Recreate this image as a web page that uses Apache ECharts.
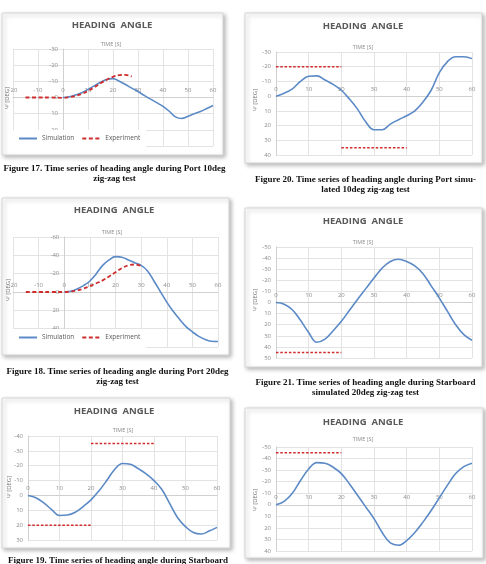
<!DOCTYPE html>
<html>
<head>
<meta charset="utf-8">
<script src="https://cdn.jsdelivr.net/npm/echarts@6/dist/echarts.min.js"></script>
<style>
  html, body { margin: 0; background: #fff; }
  #chart { width: 486px; height: 564px; }
</style>
</head>
<body>
<div id="chart"></div>
<script>
// Fig 17 - port 10deg zig-zag
const sim17T = [0, 2.5, 5, 7.5, 10, 12.5, 15, 17.5, 20, 22.5, 25, 27.5, 30, 32.5, 35, 37.5, 40, 42.5, 45, 47.5, 50, 52.5, 55, 57.5, 60];
const sim17Psi = [0, -0.5, -1.5, -3, -5, -7.2, -9.4, -11.2, -11.7, -10.1, -8, -5.8, -3.7, -1.3, 1, 3.2, 5.5, 8.5, 12, 13, 11.6, 10, 8.6, 6.8, 4.9];
const exp17T = [-15, -10, -5, 0, 2.5, 5, 7.5, 10, 12.5, 15, 17.5, 20, 22.5, 25, 27.5];
const exp17Psi = [0, 0, 0, 0.2, -0.2, -1, -2.3, -4, -6.3, -8.8, -11, -12.8, -13.8, -14, -13];

// Fig 18 - port 20deg zig-zag
const sim18T = [0, 2.5, 5, 7.5, 10, 12.5, 15, 17.5, 20, 22.5, 25, 27.5, 30, 32.5, 35, 37.5, 40, 42.5, 45, 47.5, 50, 52.5, 55, 57.5, 60];
const sim18Psi = [0, -0.8, -3.3, -7, -12, -20, -29, -35, -38.6, -38, -35, -32, -29, -23, -12, -0.5, 11, 21, 29.7, 37.7, 43.5, 48.4, 51.7, 53.8, 54];
const exp18T = [-15, -10, -5, 0, 2.5, 5, 7.5, 10, 12.5, 15, 17.5, 20, 22.5, 25, 27.5, 30.5];
const exp18Psi = [0, 0, 0, 0, -0.5, -1.6, -3.7, -6.3, -9.5, -12.7, -17, -21.5, -26, -29, -30, -27.8];

// Fig 19 - starboard simulated 10deg
const sim19T = [0, 2.5, 5, 7.5, 10, 12.5, 15, 17.5, 20, 22.5, 25, 27.5, 30, 32.5, 35, 37.5, 40, 42.5, 45, 47.5, 50, 52.5, 55, 57.5, 60];
const sim19Psi = [0, 1.5, 5, 9.5, 13.5, 13.2, 11.3, 7.5, 3, -3, -10, -17.5, -21.5, -21, -18, -14.5, -10, -4, 5.5, 15, 21, 25, 26, 24, 21.5];
const rud19T = [0, 20, 20, 40];
const rud19Psi = [20, 20, -35, -35];

// Fig 20 - port simulated 10deg
const sim20T = [0, 2.5, 5, 7.5, 10, 12.5, 15, 17.5, 20, 22.5, 25, 27.5, 30, 32.5, 35, 37.5, 40, 42.5, 45, 47.5, 50, 52.5, 55, 57.5, 60];
const sim20Psi = [0, -2, -5, -10, -13.5, -13.8, -11, -8, -4, 2, 9, 17.5, 22.8, 22.8, 19, 16, 13.3, 10, 4, -4, -16, -23.5, -26.8, -26.8, -25.5];
const rud20T = [0, 20, 20, 40];
const rud20Psi = [-20, -20, 35, 35];

// Fig 21 - starboard simulated 20deg
const sim21T = [0, 2.5, 5, 7.5, 10, 12.5, 15, 17.5, 20, 22.5, 25, 27.5, 30, 32.5, 35, 37.5, 40, 42.5, 45, 47.5, 50, 52.5, 55, 57.5, 60];
const sim21Psi = [0, 1.5, 6.5, 16, 27, 35.8, 33, 25.5, 17, 7, -3, -12.5, -22, -31, -37, -39, -37, -33, -26, -15, -4, 8, 20, 29, 34];
const rud21T = [0, 20];
const rud21Psi = [45, 45];

// Fig 22 - port simulated 20deg
const sim22T = [0, 2.5, 5, 7.5, 10, 12.5, 15, 17.5, 20, 22.5, 25, 27.5, 30, 32.5, 35, 37.5, 40, 42.5, 45, 47.5, 50, 52.5, 55, 57.5, 60];
const sim22Psi = [0, -3, -10, -21, -31, -36.5, -36, -32.5, -27, -18, -8, 2, 12, 24, 33, 35, 31, 24, 15, 5, -6, -17, -27, -33, -36];
const rud22T = [0, 20];
const rud22Psi = [-45, -45];

const zip = (t, v) => t.map((x, i) => [x, v[i]]);
// rudder data comes in pairs of points, split them into segments
const segs = (t, v) => {
  const out = [];
  for (let i = 0; i < t.length; i += 2) {
    out.push([t[i], v[i]], [t[i + 1], v[i + 1]]);
    if (i + 2 < t.length) out.push('-');
  }
  return out;
};

const panels = [
  { box: [2, 13, 221, 142], grid: [13, 49, 200, 97], x: [-20, 60], y: [-30, 30, 10], title: [112, 25], time: [111, 44], psi: [7, 98],
    caption: ['Figure 17. Time series of heading angle during Port 10deg', 'zig-zag test'], capY: 169, legendTop: 130,
    sim: zip(sim17T, sim17Psi), exp: zip(exp17T, exp17Psi) },
  { box: [2, 198, 227, 157], grid: [13, 237, 205, 110], x: [-20, 60], y: [-60, 60, 20], title: [114, 210], time: [112, 232], psi: [8, 290],
    caption: ['Figure 18. Time series of heading angle during Port 20deg', 'zig-zag test'], capY: 372, legendTop: 329,
    sim: zip(sim18T, sim18Psi), exp: zip(exp18T, exp18Psi) },
  { box: [2, 398, 228, 150], grid: [28, 436, 189, 104], x: [0, 60], y: [-40, 30, 10], title: [114, 411], time: [123, 430], psi: [9, 487],
    caption: ['Figure 19. Time series of heading angle during Starboard'], capY: 561,
    sim: zip(sim19T, sim19Psi), rud: segs(rud19T, rud19Psi) },
  { box: [245, 13, 237, 150], grid: [276, 52, 196, 103], x: [0, 60], y: [-30, 40, 10], title: [363, 26], time: [363, 47], psi: [255, 100],
    caption: ['Figure 20. Time series of heading angle during Port simu-', 'lated 10deg zig-zag test'], capY: 180,
    sim: zip(sim20T, sim20Psi), rud: segs(rud20T, rud20Psi) },
  { box: [245, 208, 237, 159], grid: [276, 247, 196, 111], x: [0, 60], y: [-50, 50, 10], title: [363, 221], time: [363, 242], psi: [255, 300],
    caption: ['Figure 21. Time series of heading angle during Starboard', 'simulated 20deg zig-zag test'], capY: 383,
    sim: zip(sim21T, sim21Psi), rud: segs(rud21T, rud21Psi) },
  { box: [245, 408, 238, 150], grid: [276, 447, 196, 104], x: [0, 60], y: [-50, 40, 10], title: [363, 422], time: [363, 439], psi: [255, 500],
    caption: [], capY: 0,
    sim: zip(sim22T, sim22Psi), rud: segs(rud22T, rud22Psi) }
];

const font = 'Open Sans';
const labelColor = '#8c8c8c';
const gridColor = '#e3e3e3';

const grid = [], xAxis = [], yAxis = [], series = [], legend = [], graphic = [];

panels.forEach((p, i) => {
  graphic.push({
    type: 'rect', z: -10,
    shape: { x: p.box[0], y: p.box[1], width: p.box[2], height: p.box[3] },
    style: { fill: '#fff', stroke: '#d6d6d6', lineWidth: 1, shadowBlur: 4, shadowOffsetX: 2, shadowOffsetY: 2, shadowColor: 'rgba(0,0,0,0.28)' }
  });
  graphic.push({
    type: 'text', x: p.title[0], y: p.title[1],
    style: { text: 'HEADING  ANGLE', fontFamily: font, fontSize: 9.5, fontWeight: 'bold', fill: '#595959', align: 'center', verticalAlign: 'middle' }
  });
  graphic.push({
    type: 'text', x: p.time[0], y: p.time[1],
    style: { text: 'TIME [S]', fontFamily: font, fontSize: 5.5, fill: labelColor, align: 'center', verticalAlign: 'middle' }
  });
  graphic.push({
    type: 'text', x: p.psi[0], y: p.psi[1], rotation: Math.PI / 2,
    style: { text: 'Ψ [DEG]', fontFamily: font, fontSize: 6, fill: '#7a7a7a', align: 'center', verticalAlign: 'middle' }
  });
  const cx = p.box[0] + p.box[2] / 2 + 2;
  p.caption.forEach((line, k) => {
    graphic.push({
      type: 'text', x: cx, y: p.capY + k * 10,
      style: { text: line, fontFamily: 'Liberation Serif', fontSize: 9, fontWeight: 'bold', fill: '#111', align: 'center', verticalAlign: 'middle' }
    });
  });

  // axes cross at zero like the excel chart: shift them by offset
  const [left, top, width, height] = p.grid;
  const xShift = height * (0 - p.y[0]) / (p.y[1] - p.y[0]);
  const yShift = width * (0 - p.x[0]) / (p.x[1] - p.x[0]);

  grid.push({ left: left, top: top, width: width, height: height });
  xAxis.push({
    type: 'value', gridIndex: i, min: p.x[0], max: p.x[1], interval: 10, position: 'top', offset: -xShift,
    axisLine: { onZero: false, lineStyle: { color: '#d0d0d0', width: 1 } },
    axisTick: { show: false },
    axisLabel: { fontFamily: font, fontSize: 6, color: labelColor, margin: 4 },
    splitLine: { lineStyle: { color: gridColor, width: 1 } }
  });
  yAxis.push({
    type: 'value', gridIndex: i, inverse: true, min: p.y[0], max: p.y[1], interval: p.y[2], position: 'left', offset: -yShift,
    axisLine: { show: true, onZero: false, lineStyle: { color: '#d0d0d0', width: 1 } },
    axisTick: { show: false },
    axisLabel: { fontFamily: font, fontSize: 6, color: labelColor, margin: 5 },
    splitLine: { lineStyle: { color: gridColor, width: 1 } }
  });

  series.push({
    name: 'Simulation', type: 'line', xAxisIndex: i, yAxisIndex: i, data: p.sim,
    smooth: 0.4, smoothConstraint: false, symbol: 'none', lineStyle: { color: '#5b8ac6', width: 1.6 }, itemStyle: { color: '#5b8ac6' }
  });
  if (p.exp) {
    series.push({
      name: 'Experiment', type: 'line', xAxisIndex: i, yAxisIndex: i, data: p.exp,
      smooth: 0.4, smoothConstraint: false, symbol: 'none', lineStyle: { color: '#cf2e2e', width: 1.8, type: [4, 2.5] }, itemStyle: { color: '#cf2e2e' }
    });
    legend.push({
      left: p.box[0] + 10, top: p.legendTop, padding: [5, 6, 9, 6], itemGap: 7, itemWidth: 18, itemHeight: 8,
      backgroundColor: '#fff', selectedMode: false,
      itemStyle: { opacity: 0 },
      data: ['Simulation', 'Experiment'],
      textStyle: { fontFamily: font, fontSize: 6.5, color: '#595959' }
    });
  }
  if (p.rud) {
    series.push({
      name: 'Rudder', type: 'line', xAxisIndex: i, yAxisIndex: i, data: p.rud,
      symbol: 'none', connectNulls: false, lineStyle: { color: '#d22a2a', width: 1.5, type: [2.5, 1.8] }
    });
  }
});

const chart = echarts.init(document.getElementById('chart'));
chart.setOption({
  animation: false,
  backgroundColor: '#fff',
  graphic: graphic,
  grid: grid,
  xAxis: xAxis,
  yAxis: yAxis,
  legend: legend,
  series: series
});
</script>
</body>
</html>
